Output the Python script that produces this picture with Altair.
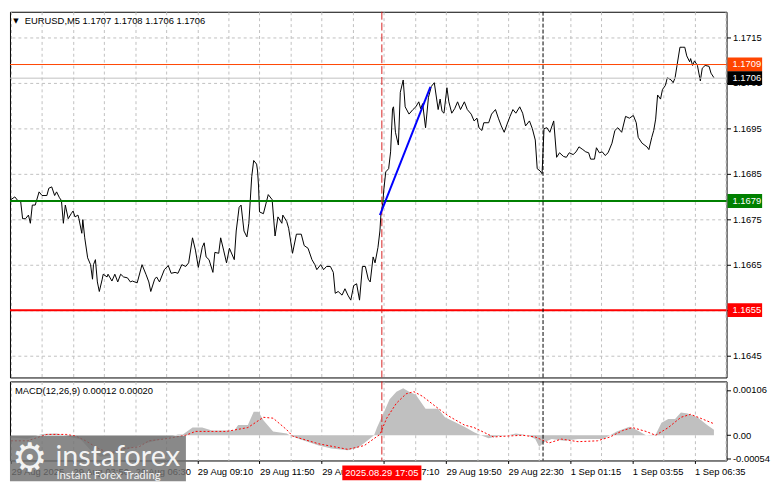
import altair as alt
import pandas as pd

# ---------------- data ----------------
price_bars = [
    0, 2, 3.5, 5, 6, 7.5, 9, 10, 11, 12.5,
    14.5, 16, 18.5, 19.5, 21, 22.5, 23.5, 25, 26, 27,
    28, 29.5, 31, 32, 33, 34.5, 35, 36.5, 37, 38,
    39.5, 41, 42, 42.5, 43.5, 44.5, 45.5, 47, 47.5, 49.5,
    50, 52, 53.5, 55, 56.5, 58, 60, 61.5, 62.5, 65,
    67.5, 69.5, 71, 72, 74, 75, 76.5, 79, 81, 82.5,
    84.5, 86, 88, 90, 91.5, 93.5, 95, 96.5, 98.5, 99.5,
    100.5, 102, 104, 105, 107, 108, 109.5, 111, 112.5, 115,
    116, 117.5, 118.5, 120, 121.5, 122.5, 124, 125, 126.5, 127,
    127.5, 128, 130, 132.5, 134.5, 136, 137.5, 139.5, 140, 142,
    143, 145, 147, 149.5, 151, 153, 155, 156.5, 157.5, 159.5,
    161, 162.5, 164.5, 166, 167, 168.5, 170.5, 172, 173.5, 175,
    176.5, 178, 179.5, 181, 182.5, 184, 185, 186.5, 187.5, 189,
    190, 190.5, 191.5, 192, 193, 194.5, 195.5, 196.5, 197, 198,
    199.5, 200.5, 202, 203, 205, 207, 208.5, 210, 211, 212,
    213.5, 215, 216.5, 218, 220, 221, 222, 223, 224.5, 225.5,
    227, 228.5, 230, 231.5, 233.5, 235, 237, 238.5, 240, 241,
    242.5, 243.5, 246, 247.5, 249.5, 251, 252.5, 254, 255.5, 257,
    258.5, 260, 262, 263.5, 265, 267, 268.5, 270, 271, 272.5,
    273.5, 274.5, 276, 277.5, 279.5, 281, 282.5, 284.5, 286, 287.5,
    289.5, 291, 292.5, 294.5, 296, 297.5, 298.5, 300.5, 301.5, 303,
    304.5, 306, 307.5, 309.5, 311, 312.5, 314.5, 316.5, 318.5, 320.5,
    322, 323, 325, 327.5, 328.5, 330, 331, 332, 333, 334.5,
    335.5, 337, 338, 340, 341, 342, 343, 344.5, 346, 347,
    348, 349.5, 350, 351, 352, 353.5, 355, 356, 357.5, 359.5,
    360.5, 362,
]
price_close = [
    1.16793, 1.16799, 1.16791, 1.16789, 1.16751, 1.16751, 1.16759, 1.16741, 1.16781, 1.16781,
    1.16810, 1.16802, 1.16802, 1.16818, 1.16821, 1.16802, 1.16810, 1.16797, 1.16791, 1.16741,
    1.16781, 1.16751, 1.16762, 1.16768, 1.16755, 1.16759, 1.16751, 1.16719, 1.16749, 1.16709,
    1.16665, 1.16650, 1.16618, 1.16650, 1.16661, 1.16612, 1.16591, 1.16618, 1.16629, 1.16623,
    1.16629, 1.16614, 1.16629, 1.16612, 1.16629, 1.16623, 1.16621, 1.16612, 1.16614, 1.16610,
    1.16650, 1.16629, 1.16612, 1.16591, 1.16618, 1.16623, 1.16612, 1.16639, 1.16648, 1.16631,
    1.16633, 1.16631, 1.16650, 1.16646, 1.16654, 1.16709, 1.16682, 1.16644, 1.16688, 1.16698,
    1.16667, 1.16661, 1.16633, 1.16677, 1.16675, 1.16709, 1.16682, 1.16654, 1.16686, 1.16661,
    1.16724, 1.16776, 1.16781, 1.16724, 1.16711, 1.16741, 1.16844, 1.16879, 1.16871, 1.16856,
    1.16823, 1.16766, 1.16762, 1.16804, 1.16793, 1.16713, 1.16755, 1.16741, 1.16759, 1.16745,
    1.16730, 1.16675, 1.16717, 1.16717, 1.16692, 1.16686, 1.16661, 1.16650, 1.16639, 1.16650,
    1.16639, 1.16646, 1.16646, 1.16633, 1.16587, 1.16591, 1.16583, 1.16597, 1.16583, 1.16572,
    1.16604, 1.16608, 1.16572, 1.16646, 1.16646, 1.16618, 1.16612, 1.16667, 1.16654, 1.16688,
    1.16724, 1.16759, 1.16787, 1.16814, 1.16854, 1.16861, 1.16898, 1.16993, 1.16997, 1.16941,
    1.16913, 1.17029, 1.17056, 1.16997, 1.16981, 1.16991, 1.16997, 1.17008, 1.16993, 1.17004,
    1.16951, 1.17018, 1.17042, 1.17050, 1.16991, 1.17014, 1.16987, 1.16983, 1.17039, 1.17008,
    1.16983, 1.16993, 1.17008, 1.16991, 1.17008, 1.16991, 1.16981, 1.16966, 1.16972, 1.16951,
    1.16945, 1.16962, 1.16962, 1.16981, 1.16991, 1.16972, 1.16955, 1.16941, 1.16959, 1.16976,
    1.16991, 1.16983, 1.16997, 1.16983, 1.16955, 1.16966, 1.16949, 1.16924, 1.16861, 1.16856,
    1.16850, 1.16949, 1.16951, 1.16941, 1.16966, 1.16886, 1.16896, 1.16888, 1.16886, 1.16896,
    1.16892, 1.16898, 1.16909, 1.16903, 1.16898, 1.16896, 1.16882, 1.16882, 1.16907, 1.16896,
    1.16898, 1.16890, 1.16896, 1.16917, 1.16945, 1.16951, 1.16941, 1.16976, 1.16972, 1.16978,
    1.16962, 1.16930, 1.16917, 1.16909, 1.16903, 1.16930, 1.16945, 1.16970, 1.17023, 1.17014,
    1.17035, 1.17044, 1.17061, 1.17056, 1.17050, 1.17061, 1.17088, 1.17128, 1.17128, 1.17128,
    1.17109, 1.17096, 1.17103, 1.17088, 1.17098, 1.17088, 1.17054, 1.17082, 1.17088, 1.17086,
    1.17071, 1.17061,
]

hist_bars = [0, 8.5, 16, 23.5, 28.5, 36, 41, 46, 51, 58.5,
             68.5, 78.5, 86, 88.5, 93.5, 98.5, 103.5, 115, 117, 122,
             125, 127.5, 130, 135, 142, 143.5, 148.5, 158.5, 165, 173.5,
             178.5, 182, 187, 188.5, 192, 195, 198.5, 202, 205, 208.5,
             213.5, 220, 223.5, 228.5, 233.5, 238.5, 242, 246, 251, 256,
             260, 266, 270, 272, 275, 278.5, 285, 292, 305, 308.5,
             312, 318.5, 322, 327, 332, 335, 338.5, 342, 345, 348.5,
             353.5, 358.5, 362]
hist_vals = [-0.00005, -0.00008, 0.00003, 0.00004, -0.00002, -0.00010, -0.00035, -0.00050, -0.00048, -0.00035,
             -0.00020, -0.00008, 0.00002, 0.00002, 0.00018, 0.00018, 0.00011, 0.00011, 0.00024, 0.00024,
             0.00055, 0.00055, 0.00035, 0.00009, 0.00004, 0.0, -0.00009, -0.00024, -0.00031, -0.00035,
             -0.00029, -0.00018, 0.0, 0.00018, 0.00053, 0.00084, 0.00102, 0.00110, 0.00102, 0.00095,
             0.00062, 0.00062, 0.00042, 0.00031, 0.00020, 0.00007, 0.0, -0.00007, -0.00002, 0.0,
             0.00004, 0.0, -0.00009, -0.00027, -0.00015, -0.00009, -0.00013, -0.00009, -0.00009, 0.0,
             0.00009, 0.00020, 0.00013, 0.0, 0.00002, 0.00029, 0.00038, 0.00038, 0.00053, 0.00051,
             0.00042, 0.00024, 0.00013]

signal_bars = [0, 8.5, 18.5, 28.5, 33.5, 38.5, 45, 51, 58.5, 66,
               71, 78.5, 85, 90, 95, 111, 122, 130, 135, 142,
               145, 158.5, 173.5, 182, 190, 193.5, 198.5, 203.5, 207.5, 212,
               218.5, 225, 233.5, 238.5, 243.5, 248.5, 255, 263.5, 270, 277,
               283.5, 292, 302, 308.5, 315, 320, 327, 332, 338.5, 345,
               350, 355, 362]
signal_vals = [-0.00013, -0.00013, 0.00002, 0.00002, -0.00002, -0.00013, -0.00031, -0.00042, -0.00031, -0.00027,
               -0.00013, -0.00009, -0.00004, 0.0, 0.00009, 0.00009, 0.00018, 0.00042, 0.00040, 0.00013,
               -0.00002, -0.00020, -0.00033, -0.00024, 0.00002, 0.00040, 0.00075, 0.00097, 0.00102, 0.00091,
               0.00068, 0.00046, 0.00024, 0.00018, 0.00007, -0.00004, -0.00002, 0.0, -0.00004, -0.00018,
               -0.00009, -0.00015, -0.00013, -0.00004, 0.00011, 0.00018, 0.00009, 0.0, 0.00018, 0.00042,
               0.00049, 0.00040, 0.00027]

level_prices = [1.1709, 1.1706, 1.1679, 1.1655]
level_labels = ["1.1709", "1.1706", "1.1679", "1.1655"]
level_line_colors = ["#FF4500", "#C0C0C0", "#008000", "#FF0000"]
level_box_colors = ["#FF4500", "#000000", "#008000", "#FF0000"]
level_widths = [1, 1, 2, 2]

trend_bars = [190, 216]
trend_prices = [1.16759, 1.17041]

event_bar = [191]
event_label = ["2025.08.29 17:05"]
day_sep_bar = [274]

title_text = "EURUSD,M5  1.1707 1.1708 1.1706 1.1706"
macd_text = "MACD(12,26,9) 0.00012 0.00020"

price_ticks = [1.1645, 1.1655, 1.1665, 1.1675, 1.1685, 1.1695, 1.1705, 1.1715]
macd_ticks = [-0.00054, 0.0, 0.00106]
grid_bars = list(range(0, 369, 16))
time_labels = ["29 Aug 2025", "29 Aug 03:50", "29 Aug 06:30", "29 Aug 09:10",
               "29 Aug 11:50", "29 Aug 14:30", "29 Aug 17:10", "29 Aug 19:50",
               "29 Aug 22:30", "1 Sep 01:15", "1 Sep 03:55", "1 Sep 06:35"]

# ---------------- layout ----------------
W = 725
H1 = 370
H2 = 80
FONT = "Liberation Sans"
FS = 9.5
GRID = "#C0C0C0"

xscale = alt.Scale(domain=[-0.5, 368.5], nice=False, zero=False)
yscale = alt.Scale(domain=[1.16402, 1.17206], nice=False, zero=False)
mscale = alt.Scale(domain=[-0.00059, 0.00126], nice=False, zero=False)

price_df = pd.DataFrame({"bar": price_bars, "price": price_close})
hist_df = pd.DataFrame({"bar": hist_bars, "val": hist_vals})
sig_df = pd.DataFrame({"bar": signal_bars, "val": signal_vals})
lev_df = pd.DataFrame({"price": level_prices, "label": level_labels,
                       "lc": level_line_colors, "bc": level_box_colors, "w": level_widths})
trend_df = pd.DataFrame({"bar": trend_bars, "price": trend_prices})
event_df = pd.DataFrame({"bar": event_bar, "label": event_label})
sep_df = pd.DataFrame({"bar": day_sep_bar})

x_grid_axis = alt.Axis(values=grid_bars, grid=True, gridColor=GRID, gridDash=[3, 3],
                       labels=False, ticks=False, domain=False, title=None, zindex=0)
y_axis = alt.Axis(orient="right", values=price_ticks, format=".4f", grid=True,
                  gridColor=GRID, gridDash=[3, 3], domain=False, tickSize=4,
                  tickColor="black", labelPadding=2, labelFont=FONT, labelFontSize=FS,
                  labelColor="black", title=None, zindex=0)

lab_arr = "[" + ",".join("'%s'" % t for t in time_labels) + "]"
x_time_axis = alt.Axis(values=grid_bars, grid=True, gridColor=GRID, gridDash=[3, 3],
                       labelExpr="datum.value %% 32 === 0 ? %s[datum.value / 32] : ''" % lab_arr,
                       tickOpacity={"condition": {"test": "datum.value % 32 === 0", "value": 1}, "value": 0},
                       domain=False, tickSize=3, tickColor="black", labelAlign="left",
                       labelPadding=3, labelFlush=False, labelOverlap=False, labelBound=False,
                       labelFont=FONT, labelFontSize=FS, labelColor="black", title=None, zindex=0)
m_axis = alt.Axis(orient="right", values=macd_ticks, grid=False, domain=False, tickSize=4,
                  tickColor="black", labelPadding=2, labelFont=FONT, labelFontSize=FS,
                  labelColor="black", title=None, zindex=0,
                  labelExpr="datum.value > 0.0005 ? '0.00106' : (datum.value < -0.0002 ? '-0.00054' : '0.00')")

X = alt.X("bar:Q", scale=xscale, axis=x_grid_axis)
Y = alt.Y("price:Q", scale=yscale, axis=y_axis)

# ---------------- main panel ----------------
line = alt.Chart(price_df).mark_line(color="black", strokeWidth=1).encode(x=X, y=Y)

levels = alt.Chart(lev_df).mark_rule().encode(
    y=Y, color=alt.Color("lc:N", scale=None), size=alt.Size("w:Q", scale=None))

trend = alt.Chart(trend_df).mark_line(color="#0000FF", strokeWidth=2).encode(x=X, y=Y)

ev_rule = alt.Chart(event_df).mark_rule(color="#D82020", strokeDash=[8, 3], strokeWidth=1).encode(x=X)
sep_rule = alt.Chart(sep_df).mark_rule(color="black", strokeDash=[4, 2], strokeWidth=1).encode(x=X)

boxes = alt.Chart(lev_df).mark_rect(yOffset=-7, y2Offset=7).encode(
    y=Y, y2="price:Q", x=alt.value(W + 1), x2=alt.value(W + 36),
    color=alt.Color("bc:N", scale=None))
box_text = alt.Chart(lev_df).mark_text(align="left", baseline="middle", font=FONT,
                                       fontSize=FS, color="white").encode(
    y=Y, x=alt.value(W + 6), text="label:N")

title_df = pd.DataFrame({"t": [title_text], "m": ["\u25BC"]})
tri = alt.Chart(title_df).mark_text(align="center", baseline="middle", font="DejaVu Sans",
                                    fontSize=7, color="black").encode(
    x=alt.value(6), y=alt.value(9), text="m:N")
ttl = alt.Chart(title_df).mark_text(align="left", baseline="middle", font=FONT,
                                    fontSize=FS, color="black").encode(
    x=alt.value(15), y=alt.value(9), text="t:N")

main = alt.layer(line, levels, ev_rule, sep_rule, trend, boxes, box_text, tri, ttl).properties(
    width=W, height=H1)

# ---------------- MACD panel ----------------
XM = alt.X("bar:Q", scale=xscale, axis=x_time_axis)
YM = alt.Y("val:Q", scale=mscale, axis=m_axis)

hist = alt.Chart(hist_df).mark_area(color="#C0C0C0", opacity=1).encode(
    x=XM, y=YM, y2=alt.datum(0))
sig = alt.Chart(sig_df).mark_line(color="#FF0000", strokeDash=[2, 2], strokeWidth=1).encode(x=XM, y=YM)
ev_rule2 = alt.Chart(event_df).mark_rule(color="#D82020", strokeDash=[8, 3], strokeWidth=1).encode(x=XM)
sep_rule2 = alt.Chart(sep_df).mark_rule(color="black", strokeDash=[4, 2], strokeWidth=1).encode(x=XM)

macd_df = pd.DataFrame({"t": [macd_text]})
macd_lbl = alt.Chart(macd_df).mark_text(align="left", baseline="middle", font=FONT,
                                        fontSize=FS, color="black").encode(
    x=alt.value(5), y=alt.value(10), text="t:N")

ev_box = alt.Chart(event_df).mark_rect(color="#FF0000", xOffset=-40, x2Offset=40).encode(
    x=XM, x2="bar:Q", y=alt.value(H2 + 5), y2=alt.value(H2 + 20))
ev_text = alt.Chart(event_df).mark_text(align="center", baseline="middle", font=FONT,
                                        fontSize=FS, color="white").encode(
    x=XM, y=alt.value(H2 + 12.5), text="label:N")

logo_df = pd.DataFrame({"brand": ["instaforex"], "tag": ["Instant Forex Trading"], "icon": ["\u2699"]})
logo_bg = alt.Chart(logo_df).mark_rect(color="#6f6f6f", opacity=0.82).encode(
    x=alt.value(0), x2=alt.value(178), y=alt.value(55), y2=alt.value(H2 + 21))
logo_icon = alt.Chart(logo_df).mark_text(align="center", baseline="middle", font="DejaVu Sans",
                                         fontSize=40, color="white", opacity=0.9).encode(
    x=alt.value(20), y=alt.value(79), text="icon:N")
logo_brand = alt.Chart(logo_df).mark_text(align="left", baseline="alphabetic", font="Lato",
                                          fontSize=29, color="white", opacity=0.9).encode(
    x=alt.value(46), y=alt.value(86), text="brand:N")
logo_tag = alt.Chart(logo_df).mark_text(align="left", baseline="alphabetic", font="Lato",
                                        fontSize=11.5, color="white", opacity=0.9).encode(
    x=alt.value(47), y=alt.value(99), text="tag:N")

macd = alt.layer(hist, sig, ev_rule2, sep_rule2, macd_lbl, ev_box, ev_text,
                 logo_bg, logo_icon, logo_brand, logo_tag).properties(width=W, height=H2)

chart = alt.vconcat(main, macd, spacing=2).properties(
    padding={"left": 0, "top": 0, "right": 2, "bottom": 0},
    background="white",
).configure_view(stroke="black", strokeWidth=1)

chart.save("out.html", embed_options={"renderer": "svg", "actions": False})
